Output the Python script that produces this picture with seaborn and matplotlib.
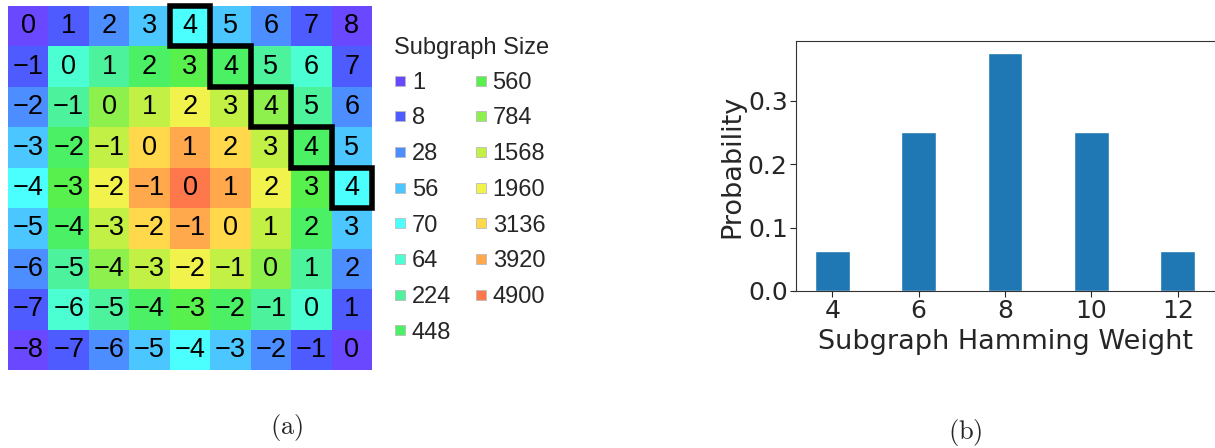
import numpy as np
import pandas as pd
import matplotlib
matplotlib.use("Agg")
import matplotlib.pyplot as plt
from matplotlib.colors import ListedColormap
from matplotlib.patches import Rectangle
from matplotlib.lines import Line2D
import seaborn as sns

# ---------------- data ----------------
# cell annotation (weight difference) for the 9x9 grid
diff_values = [
    [0, 1, 2, 3, 4, 5, 6, 7, 8],
    [-1, 0, 1, 2, 3, 4, 5, 6, 7],
    [-2, -1, 0, 1, 2, 3, 4, 5, 6],
    [-3, -2, -1, 0, 1, 2, 3, 4, 5],
    [-4, -3, -2, -1, 0, 1, 2, 3, 4],
    [-5, -4, -3, -2, -1, 0, 1, 2, 3],
    [-6, -5, -4, -3, -2, -1, 0, 1, 2],
    [-7, -6, -5, -4, -3, -2, -1, 0, 1],
    [-8, -7, -6, -5, -4, -3, -2, -1, 0],
]
# subgraph size of each cell
size_values = [
    [1, 8, 28, 56, 70, 56, 28, 8, 1],
    [8, 64, 224, 448, 560, 448, 224, 64, 8],
    [28, 224, 784, 1568, 1960, 1568, 784, 224, 28],
    [56, 448, 1568, 3136, 3920, 3136, 1568, 448, 56],
    [70, 560, 1960, 3920, 4900, 3920, 1960, 560, 70],
    [56, 448, 1568, 3136, 3920, 3136, 1568, 448, 56],
    [28, 224, 784, 1568, 1960, 1568, 784, 224, 28],
    [8, 64, 224, 448, 560, 448, 224, 64, 8],
    [1, 8, 28, 56, 70, 56, 28, 8, 1],
]
# legend order of subgraph sizes
size_labels = [1, 8, 28, 56, 70, 64, 224, 448, 560, 784, 1568, 1960, 3136, 3920, 4900]
size_colors = ["#6A48FF", "#4D5BFF", "#4C8DFF", "#4CC6FF", "#4CFFFF",
               "#4CFFD2", "#4CF29C", "#4CF064", "#58F04C", "#8EF04C",
               "#C2F045", "#F2F24C", "#FFD84C", "#FFA84C", "#FF784C"]
# highlighted cells (row, col)
highlight_rows = [0, 1, 2, 3, 4]
highlight_cols = [4, 5, 6, 7, 8]

# bar chart
hamming_weights = [4, 6, 8, 10, 12]
probabilities = [0.0625, 0.25, 0.375, 0.25, 0.0625]

# ---------------- figure ----------------
sns.set_style("white")
plt.rcParams["font.family"] = ["DejaVu Sans"]
plt.rcParams["mathtext.fontset"] = "cm"

fig = plt.figure(figsize=(12.15, 4.48), dpi=100)

# ---- (a) heatmap ----
ax1 = fig.add_axes([8 / 1215, 1 - 370 / 448, 364 / 1215, 364 / 448])
idx_map = {s: i for i, s in enumerate(size_labels)}
color_idx = pd.DataFrame([[idx_map[v] for v in row] for row in size_values])
annot = np.array([[("\u2212%d" % -v) if v < 0 else "%d" % v for v in row]
                  for row in diff_values])
cmap = ListedColormap(size_colors)
sns.heatmap(color_idx, ax=ax1, cmap=cmap, vmin=-0.5, vmax=len(size_colors) - 0.5,
            annot=annot, fmt="", cbar=False, xticklabels=False, yticklabels=False,
            square=False, linewidths=0,
            annot_kws={"fontsize": 19.5, "color": "black", "family": "Liberation Sans"})
for r, c in zip(highlight_rows, highlight_cols):
    ax1.add_patch(Rectangle((c, r), 1, 1, fill=False, edgecolor="black",
                            linewidth=4, clip_on=False, zorder=5))

handles = [Line2D([0], [0], marker="s", linestyle="none", markersize=6.5,
                  markerfacecolor=col, markeredgecolor="#bbbbbb", markeredgewidth=0.6)
           for col in size_colors]
leg = ax1.legend(handles, [str(s) for s in size_labels], ncol=2, frameon=False,
                 title="Subgraph Size", loc="upper left",
                 bbox_to_anchor=(1.035, 0.94),
                 prop={"family": "Liberation Sans", "size": 17},
                 title_fontproperties={"family": "Liberation Sans", "size": 17},
                 handletextpad=0.25, handlelength=0.5, columnspacing=1.0,
                 labelspacing=0.58, borderaxespad=0)
leg._legend_box.align = "left"
leg._legend_box.sep = 9

# ---- (b) bar chart ----
ax2 = fig.add_axes([796 / 1215, 1 - 291 / 448, 418 / 1215, 250 / 448])
sns.barplot(x=hamming_weights, y=probabilities, ax=ax2, native_scale=True,
            width=0.4, color="#1f77b4", saturation=1)
ax2.set_xticks(hamming_weights)
ax2.set_yticks([0.0, 0.1, 0.2, 0.3])
ax2.set_xlabel("Subgraph Hamming Weight", fontsize=19.5, labelpad=4)
ax2.set_ylabel("Probability", fontsize=19.5, labelpad=2)
ax2.tick_params(axis="both", labelsize=18, length=4, width=0.8, left=True, bottom=True,
                pad=2)
for sp in ax2.spines.values():
    sp.set_linewidth(0.8)
    sp.set_color("#333333")
ax2.spines["right"].set_visible(False)

fig.text(287 / 1215, 1 - 427 / 448, r"$\mathrm{(a)}$", ha="center", va="center", fontsize=19)
fig.text(965 / 1215, 1 - 432 / 448, r"$\mathrm{(b)}$", ha="center", va="center", fontsize=19)

fig.savefig("out.png", dpi=100)
